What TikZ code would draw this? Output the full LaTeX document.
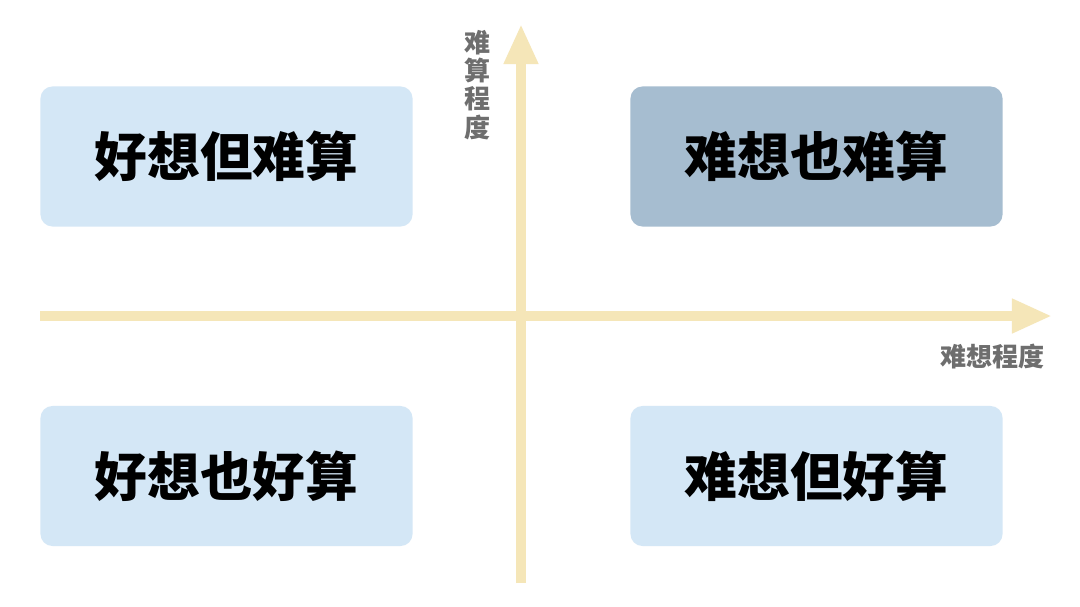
\documentclass[tikz,border=0pt]{standalone}
\usepackage{fontspec}
\usepackage{xcolor}
\usepackage{tikz}
\usetikzlibrary{arrows.meta}
\newfontfamily\cjk{Noto Sans CJK SC}
\definecolor{boxlight}{HTML}{D4E7F6}
\definecolor{boxdark}{HTML}{A6BDD0}
\definecolor{axiscol}{HTML}{F5E6B8}
\definecolor{labelgray}{HTML}{6E6E6E}
\tikzset{
quad/.style={
rounded corners=0.3cm,
minimum width=9.3cm,
minimum height=3.5cm,
align=center,
fill=boxlight,
font=\cjk\bfseries\fontsize{37.5}{40}\selectfont
},
axislabel/.style={
text=labelgray,
align=center,
font=\cjk\bfseries\fontsize{18.5}{20}\selectfont
},
axis/.style={
-{Triangle[length=1cm,width=0.8cm]},
line width=0.25cm,
color=axiscol
}
}

\begin{document}
\begin{tikzpicture}[x=0.025cm,y=-0.025cm]
\useasboundingbox[fill=white](0,0) rectangle (1080,606);
\coordinate(xstart) at (40,316);
\coordinate(xend) at (1052,316);
\coordinate(ystart) at (521,583);
\coordinate(yend) at (521,24);
\draw[axis](ystart)--(yend);
\draw[axis](xstart)--(xend);

\node[quad](easyhard) at (226.5,156.5){好想但难算};
\node[quad,fill=boxdark](hardhard) at (816.5,156.5){难想也难算};
\node[quad](easyeasy) at (226.5,476){好想也好算};
\node[quad](hardeasy) at (816.5,476){难想但好算};

\node[axislabel](ylabel) at (478,85){难\\算\\程\\度};
\node[axislabel](xlabel) at (992.5,357){难想程度};
\end{tikzpicture}
\end{document}
